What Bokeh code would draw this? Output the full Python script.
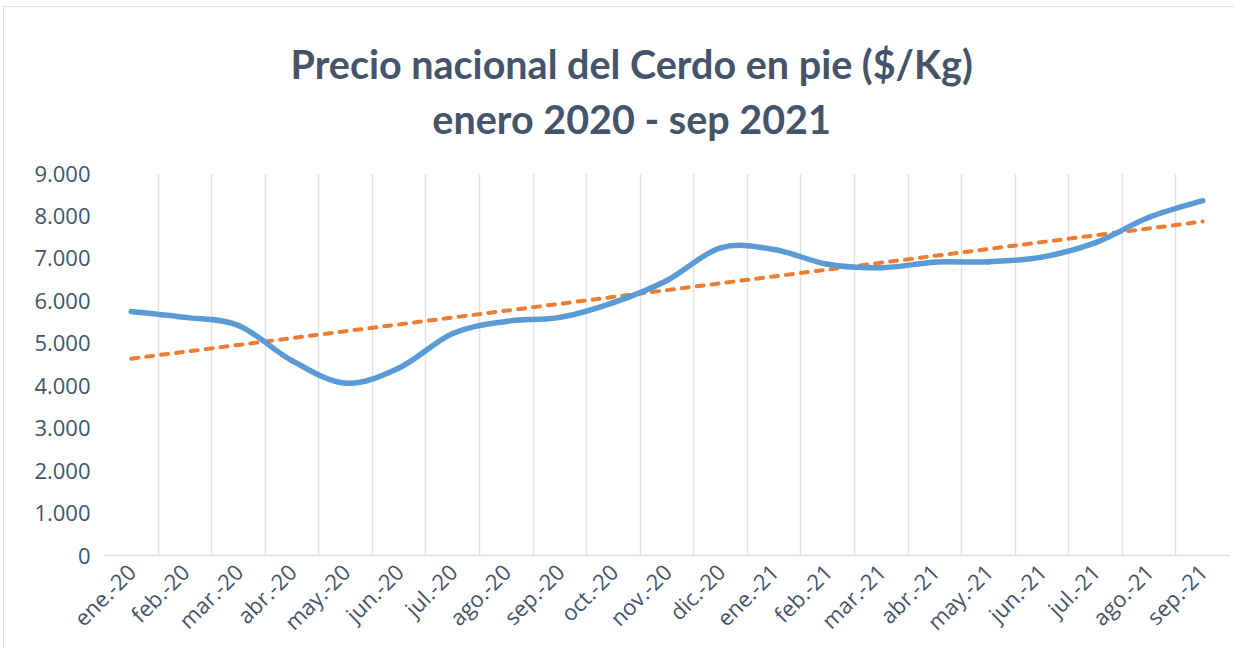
import numpy as np
from bokeh.plotting import figure
from bokeh.models import Range1d, FixedTicker, Title
from bokeh.embed import file_html
from bokeh.resources import INLINE

# ---- data ----
months = ["ene.-20", "feb.-20", "mar.-20", "abr.-20", "may.-20", "jun.-20", "jul.-20",
          "ago.-20", "sep.-20", "oct.-20", "nov.-20", "dic.-20", "ene.-21", "feb.-21",
          "mar.-21", "abr.-21", "may.-21", "jun.-21", "jul.-21", "ago.-21", "sep.-21"]
precio = [5750, 5610, 5420, 4590, 4060, 4420, 5230, 5515, 5610, 5960, 6480,
          7250, 7210, 6860, 6780, 6910, 6920, 7030, 7370, 7970, 8360]
y_ticks = [0, 1000, 2000, 3000, 4000, 5000, 6000, 7000, 8000, 9000]
y_tick_labels = ["0", "1.000", "2.000", "3.000", "4.000", "5.000", "6.000", "7.000", "8.000", "9.000"]
title_text = "Precio nacional del Cerdo en pie ($/Kg)\nenero 2020 - sep 2021"

TXT = "#44546a"
GRID = "#dce1e8"

n = len(months)
xs = np.arange(n) + 0.5
ys = np.array(precio, dtype=float)

p = figure(width=1231, height=642, x_range=Range1d(0, n), y_range=Range1d(0, 9000),
           output_backend="svg", toolbar_location=None, title=None,
           min_border_left=100, min_border_right=6, min_border_top=164, min_border_bottom=94)
p.styles = {"margin-left": "3px", "margin-top": "6px",
            "border-left": "1px solid #dde2e8", "border-top": "1px solid #dde2e8"}
p.outline_line_color = None
p.background_fill_color = "white"
p.border_fill_color = "white"

# title (two centred lines)
tkw = dict(text=title_text, align="left", text_font="Lato", text_font_style="bold",
           text_font_size="39.5px", text_color=TXT, standoff=62, offset=186)
props = Title.properties()
if "text_align" in props:
    tkw["text_align"] = "center"
if "text_line_height" in props:
    tkw["text_line_height"] = 1.18
p.add_layout(Title(**tkw), "above")

# grid: vertical lines at category boundaries only
p.ygrid.grid_line_color = None
p.xgrid.ticker = FixedTicker(ticks=list(range(n + 1)))
p.xgrid.grid_line_color = GRID
p.xgrid.grid_line_width = 1.4

# x axis
p.xaxis.ticker = FixedTicker(ticks=list(xs))
p.xaxis.major_label_overrides = {float(x): m for x, m in zip(xs, months)}
p.xaxis.major_label_orientation = np.pi / 4
p.xaxis.major_label_text_font = "Open Sans"
p.xaxis.major_label_text_font_size = "22px"
p.xaxis.major_label_text_color = TXT
p.xaxis.major_label_standoff = 12
p.xaxis.axis_line_color = GRID
p.xaxis.axis_line_width = 1.5
p.xaxis.major_tick_line_color = None
p.xaxis.minor_tick_line_color = None
p.xaxis.major_tick_out = 0
p.xaxis.major_tick_in = 0
p.xaxis.minor_tick_out = 0
p.xaxis.minor_tick_in = 0

# y axis
p.yaxis.ticker = FixedTicker(ticks=y_ticks)
p.yaxis.major_label_overrides = {t: l for t, l in zip(y_ticks, y_tick_labels)}
p.yaxis.major_label_text_font = "Open Sans"
p.yaxis.major_label_text_font_size = "22px"
p.yaxis.major_label_text_color = TXT
p.yaxis.major_label_standoff = 14
p.yaxis.axis_line_color = None
p.yaxis.major_tick_line_color = None
p.yaxis.minor_tick_line_color = None
p.yaxis.major_tick_out = 0
p.yaxis.minor_tick_out = 0

# linear trend line (least squares fit of the series)
slope, intercept = np.polyfit(np.arange(n), ys, 1)
trend_x = [xs[0], xs[-1]]
trend_y = [intercept, intercept + slope * (n - 1)]
p.line(trend_x, trend_y, line_color="#ed7d31", line_width=4, line_dash="7 8", line_cap="round")

# smoothed series (cubic Bezier segments through the data points)
pad = np.concatenate([[ys[0]], ys, [ys[-1]]])
padx = np.concatenate([[xs[0]], xs, [xs[-1]]])
x0 = xs[:-1]; y0 = ys[:-1]; x1 = xs[1:]; y1 = ys[1:]
cx0 = x0 + (padx[2:-1] - padx[0:-3]) / 6.0
cy0 = y0 + (pad[2:-1] - pad[0:-3]) / 6.0
cx1 = x1 - (padx[3:] - padx[1:-2]) / 6.0
cy1 = y1 - (pad[3:] - pad[1:-2]) / 6.0
p.bezier(x0=x0, y0=y0, x1=x1, y1=y1, cx0=cx0, cy0=cy0, cx1=cx1, cy1=cy1,
         line_color="#5b9bd5", line_width=5.5, line_cap="round")

open("out.html", "w").write(file_html(p, INLINE))
